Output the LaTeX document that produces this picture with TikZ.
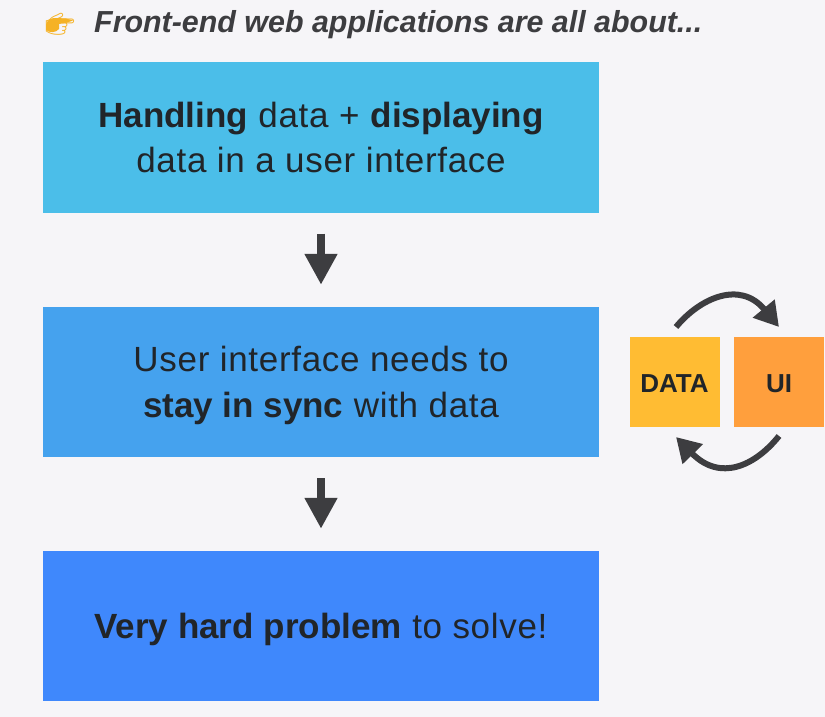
\documentclass[tikz,border=0pt]{standalone}
\usepackage{fontspec}
\setmainfont{Liberation Sans}[LetterSpace=2.0,BoldFeatures={LetterSpace=0},BoldItalicFeatures={LetterSpace=0}]
\newfontfamily\emojifont{Noto Emoji}
\usetikzlibrary{arrows.meta}
\definecolor{pagebg}{HTML}{F6F5F8}
\definecolor{inkdark}{HTML}{212529}
\definecolor{arrowdark}{HTML}{3D3D40}
\definecolor{boxone}{HTML}{4BBEE9}
\definecolor{boxtwo}{HTML}{45A2EE}
\definecolor{boxthree}{HTML}{3F88FC}
\definecolor{datafill}{HTML}{FFBC33}
\definecolor{uifill}{HTML}{FF9F3D}
\definecolor{handfill}{HTML}{F5B225}
\tikzset{
  bigbox/.style={minimum width=556pt,minimum height=150pt,inner sep=0pt,align=center,
    text=inkdark,text depth=0pt,font=\fontsize{35}{45.5}\selectfont},
  smallbox/.style={minimum width=90pt,minimum height=90pt,inner sep=0pt,
    text=inkdark,text height=21pt,text depth=0pt,font=\fontsize{26}{30}\selectfont\bfseries},
  downarrow/.style={draw=arrowdark,line width=8pt,-{Triangle[length=31pt,width=31pt]},
    shorten <=21pt,shorten >=22pt},
  looparrow/.style={draw=arrowdark,line width=6pt,-{Triangle[length=24pt,width=27pt]}}
}
\begin{document}
\begin{tikzpicture}[x=1pt,y=-1pt]
\useasboundingbox[fill=pagebg] (0,0) rectangle (825,717);
\fill[handfill] (46,25) .. controls (47,19) and (52,18) .. (56,18) -- (66,18.5) -- (73,20.5) -- (66,23) -- (59,24) -- (59,29) .. controls (56,33) and (49,33) .. (46,30) -- cycle;
\node[inner sep=0pt,text=handfill,font=\emojifont\fontsize{24}{24}\selectfont] (hand) at (60,24) {^^^^^^01f449};
\node[anchor=west,inner sep=0pt,text=arrowdark,font=\fontsize{30.4}{36}\selectfont\bfseries\itshape] (title) at (94,25)
  {Front-end web applications are all about...};
\node[bigbox,fill=boxone] (handling) at (321,137.5) {\textbf{Handling} data + \textbf{displaying}\\data in a user interface};
\node[bigbox,fill=boxtwo] (sync) at (321,382) {User interface needs to\\\textbf{stay in sync} with data};
\node[bigbox,fill=boxthree] (problem) at (321,626) {\textbf{Very hard problem} to solve!};
\node[smallbox,fill=datafill] (data) at (674.5,382) {DATA};
\node[smallbox,fill=uifill] (ui) at (779,382) {UI};
% arrows between the boxes
\draw[downarrow] (handling.south) -- (sync.north);
\draw[downarrow] (sync.south) -- (problem.north);
% loop round data and ui
\coordinate (datatop) at (676,327);
\coordinate (uitop) at (779,327);
\coordinate (uibottom) at (779,436);
\coordinate (databottom) at (676,437);
\draw[looparrow] (datatop) .. controls (700,298) and (740,280) .. (uitop);
\draw[looparrow] (uibottom) .. controls (755,466) and (720,482) .. (databottom);
\end{tikzpicture}
\end{document}
